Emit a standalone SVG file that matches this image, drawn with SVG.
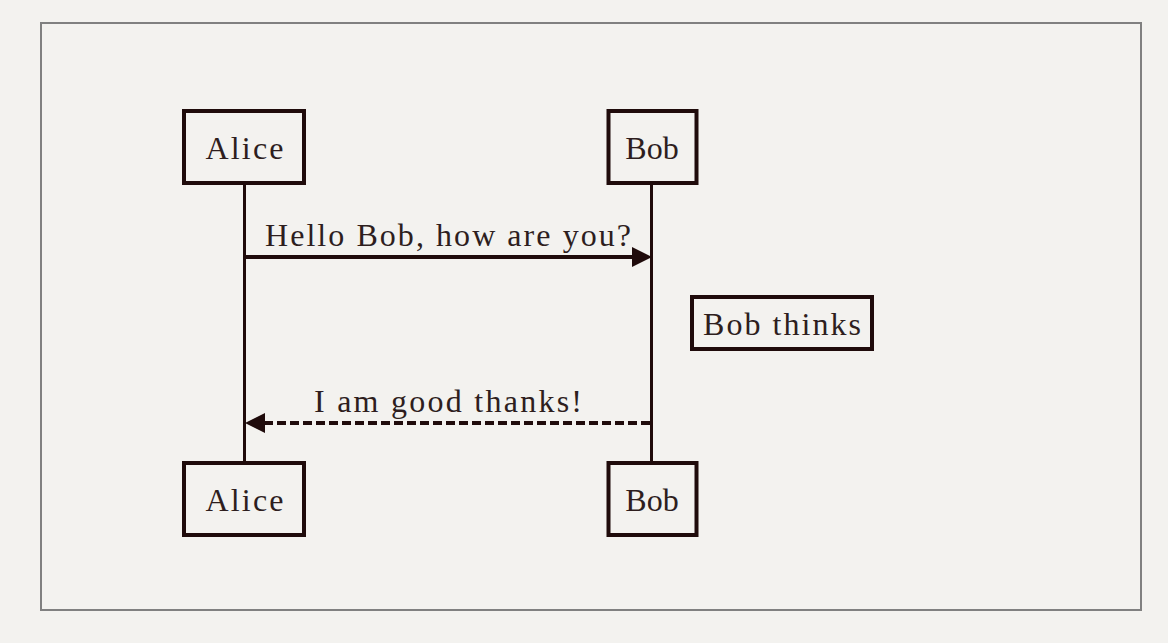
<svg xmlns="http://www.w3.org/2000/svg" width="1168" height="643" viewBox="0 0 1168 643">
<style>
.bg{fill:#f3f2ef}
.frame{fill:none;stroke:#808080;stroke-width:2}
.actor{fill:#f3f2ef;stroke:#1f0b0b;stroke-width:4}
.life{stroke:#1f0b0b;stroke-width:3}
.msg{stroke:#1f0b0b;stroke-width:4;fill:none}
.dash{stroke-dasharray:9 4}
.head{fill:#1f0b0b}
.t{font-family:"Liberation Serif","DejaVu Serif",serif;font-size:32px;fill:#2e1e1e;text-anchor:middle}
</style>
<rect class="bg" x="0" y="0" width="1168" height="643"/>
<rect class="frame" x="41" y="23" width="1100" height="587"/>
<g id="connectors">
<line class="life" x1="244.5" y1="183" x2="244.5" y2="463"/>
<line class="life" x1="651.5" y1="183" x2="651.5" y2="463"/>
<line class="msg" x1="246" y1="257" x2="634" y2="257"/>
<polygon class="head" points="632,247 652,257 632,267"/>
<text class="t" x="448" y="246" textLength="366" lengthAdjust="spacing">Hello Bob, how are you?</text>
<line class="msg dash" x1="650" y1="423" x2="262" y2="423"/>
<polygon class="head" points="245,423 265,413 265,433"/>
<text class="t" x="448" y="412" textLength="268" lengthAdjust="spacing">I am good thanks!</text>
</g>
<g id="alice-top">
<rect class="actor" x="184" y="111" width="120" height="72"/>
<text class="t" x="244.5" y="159" textLength="78" lengthAdjust="spacing">Alice</text>
</g>
<g id="bob-top">
<rect class="actor" x="608.5" y="111" width="88" height="72"/>
<text class="t" x="652" y="159">Bob</text>
</g>
<g id="alice-bottom">
<rect class="actor" x="184" y="463" width="120" height="72"/>
<text class="t" x="244.5" y="511" textLength="78" lengthAdjust="spacing">Alice</text>
</g>
<g id="bob-bottom">
<rect class="actor" x="608.5" y="463" width="88" height="72"/>
<text class="t" x="652" y="511">Bob</text>
</g>
<g id="note-bob-thinks">
<rect class="actor" x="692" y="297" width="180" height="52"/>
<text class="t" x="782" y="335" textLength="158" lengthAdjust="spacing">Bob thinks</text>
</g>
</svg>
